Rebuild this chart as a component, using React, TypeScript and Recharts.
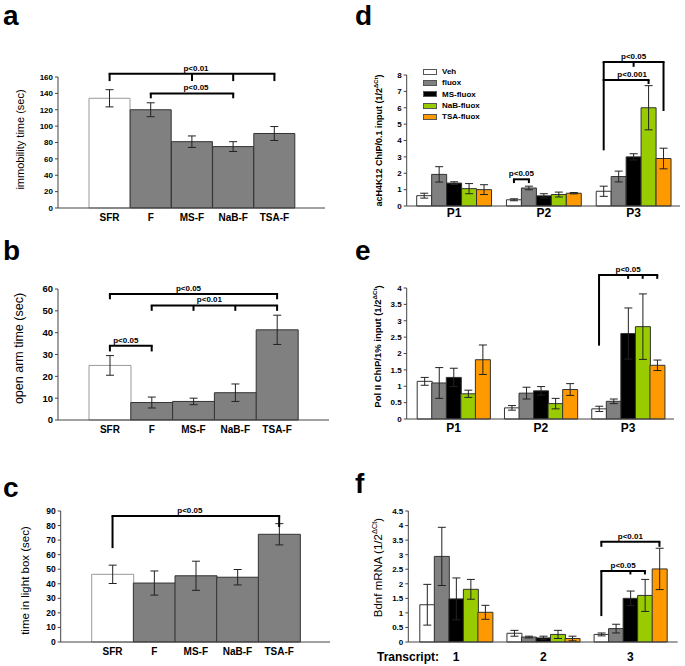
import React from 'react';
import { BarChart, Bar, XAxis, YAxis, ErrorBar, ReferenceLine, Cell } from 'recharts';

const FONT = '"Liberation Sans", Arial, Helvetica, sans-serif';

// behaviour tests (panels a-c)
const behaviourGroups = ['SFR', 'F', 'MS-F', 'NaB-F', 'TSA-F'];
const immobilityTime = [134, 120, 81, 75, 91];
const immobilityErr = [10.5, 8.5, 7, 6, 8.5];
const immobilityTicks = [0, 20, 40, 60, 80, 100, 120, 140, 160];
const openArmTime = [25, 8, 8.5, 12.5, 41.3];
const openArmErr = [4.5, 2.5, 1.5, 4, 6.7];
const openArmTicks = [0, 10, 20, 30, 40, 50, 60];
const lightBoxTime = [46.5, 40.5, 45.5, 44.5, 74];
const lightBoxErr = [6.3, 8.3, 10, 5.3, 7.3];
const lightBoxTicks = [0, 10, 20, 30, 40, 50, 60, 70, 80, 90];

// ChIP and mRNA (panels d-f), values per treatment inside each group
const treatments = ['Veh', 'fluox', 'MS-fluox', 'NaB-fluox', 'TSA-fluox'];
const treatmentColors = ['#ffffff', '#808080', '#000000', '#99cc00', '#ff9900'];
const promoters = ['P1', 'P2', 'P3'];
const transcripts = ['1', '2', '3'];

const acH4P1 = [0.63, 1.93, 1.4, 1.06, 1.0];
const acH4P2 = [0.38, 1.1, 0.62, 0.7, 0.78];
const acH4P3 = [0.9, 1.8, 3.0, 6.0, 2.9];
const acH4P1Err = [0.15, 0.47, 0.08, 0.31, 0.3];
const acH4P2Err = [0.06, 0.11, 0.13, 0.15, 0.04];
const acH4P3Err = [0.31, 0.33, 0.19, 1.35, 0.63];
const acH4Ticks = [0, 1, 2, 3, 4, 5, 6, 7, 8];

const polP1 = [1.15, 1.1, 1.27, 0.77, 1.81];
const polP2 = [0.34, 0.79, 0.86, 0.47, 0.9];
const polP3 = [0.31, 0.54, 2.61, 2.82, 1.64];
const polP1Err = [0.12, 0.47, 0.28, 0.11, 0.45];
const polP2Err = [0.07, 0.18, 0.13, 0.16, 0.18];
const polP3Err = [0.08, 0.07, 0.78, 1.0, 0.16];
const polTicks = [0, 0.5, 1, 1.5, 2, 2.5, 3, 3.5, 4];

const bdnf1 = [1.28, 2.94, 1.48, 1.81, 1.02];
const bdnf2 = [0.3, 0.17, 0.14, 0.26, 0.12];
const bdnf3 = [0.26, 0.46, 1.5, 1.6, 2.51];
const bdnf1Err = [0.7, 1.0, 0.72, 0.34, 0.24];
const bdnf2Err = [0.1, 0.03, 0.06, 0.14, 0.08];
const bdnf3Err = [0.05, 0.15, 0.25, 0.55, 0.71];
const bdnfTicks = [0, 0.5, 1, 1.5, 2, 2.5, 3, 3.5, 4, 4.5];

type Bracket = { label: string; y: number; from: string; to: string; legs: [string, number][]; dx?: number };

const at = (g: string, t: string) => `${g}|${treatments.indexOf(t)}`;

const immobilityBrackets: Bracket[] = [
  { label: 'p<0.01', y: 164, from: 'SFR', to: 'TSA-F', legs: [['SFR', 155], ['MS-F', 155], ['NaB-F', 155], ['TSA-F', 155]], dx: 4 },
  { label: 'p<0.05', y: 140, from: 'F', to: 'NaB-F', legs: [['F', 134], ['NaB-F', 134]], dx: 4 },
];
const openArmBrackets: Bracket[] = [
  { label: 'p<0.05', y: 57.7, from: 'SFR', to: 'TSA-F', legs: [['SFR', 55.3], ['TSA-F', 55.3]], dx: -5 },
  { label: 'p<0.01', y: 52.5, from: 'F', to: 'TSA-F', legs: [['F', 50], ['MS-F', 50], ['NaB-F', 50], ['TSA-F', 50]], dx: -5 },
  { label: 'p<0.05', y: 34, from: 'SFR', to: 'F', legs: [['SFR', 31.4], ['F', 31.4]], dx: -5 },
];
const lightBoxBrackets: Bracket[] = [
  { label: 'p<0.05', y: 86.6, from: 'SFR', to: 'TSA-F', legs: [['SFR', 64.5], ['TSA-F', 79]], dx: -6 },
];
const acH4Brackets: Bracket[] = [
  { label: 'p<0.05', y: 1.63, from: at('P2', 'Veh'), to: at('P2', 'fluox'), legs: [[at('P2', 'Veh'), 1.4], [at('P2', 'fluox'), 1.4]] },
  { label: 'p<0.05', y: 8.8, from: at('P3', 'Veh'), to: at('P3', 'TSA-fluox'), legs: [[at('P3', 'Veh'), 3.4], [at('P3', 'MS-fluox'), 8.5], [at('P3', 'TSA-fluox'), 5.8]] },
  { label: 'p<0.001', y: 7.7, from: at('P3', 'Veh'), to: at('P3', 'NaB-fluox'), legs: [[at('P3', 'NaB-fluox'), 7.45]], dx: 6 },
];
const polBrackets: Bracket[] = [
  { label: 'p<0.05', y: 4.4, from: at('P3', 'Veh'), to: at('P3', 'TSA-fluox'), legs: [[at('P3', 'Veh'), 2.24], [at('P3', 'MS-fluox'), 4.28], [at('P3', 'NaB-fluox'), 4.28], [at('P3', 'TSA-fluox'), 4.28]] },
];
const bdnfBrackets: Bracket[] = [
  { label: 'p<0.01', y: 3.44, from: at('3', 'Veh'), to: at('3', 'TSA-fluox'), legs: [[at('3', 'Veh'), 3.27], [at('3', 'TSA-fluox'), 3.27]] },
  { label: 'p<0.05', y: 2.44, from: at('3', 'Veh'), to: at('3', 'NaB-fluox'), legs: [[at('3', 'Veh'), 0.89], [at('3', 'MS-fluox'), 2.32], [at('3', 'NaB-fluox'), 2.32]] },
];

const TOP_PAD = 80;
const PLOT_H = 131;
const X_AXIS_H = 25;
const CHART_H = TOP_PAD + PLOT_H + X_AXIS_H;

function bracketLines(brackets: Bracket[], fontSize: number) {
  const out: React.ReactNode[] = [];
  brackets.forEach((b, i) => {
    out.push(
      <ReferenceLine
        key={`h${i}`}
        segment={[{ x: b.from, y: b.y }, { x: b.to, y: b.y }]}
        stroke="#000"
        strokeWidth={2}
        strokeLinecap="square"
        ifOverflow="visible"
        label={{ value: b.label, position: 'top', offset: 3, fontSize, fontWeight: 'bold', fill: '#000', fontFamily: FONT, dx: b.dx ?? 0 }}
      />
    );
    b.legs.forEach(([x, y2], j) =>
      out.push(
        <ReferenceLine key={`v${i}-${j}`} segment={[{ x, y: b.y }, { x, y: y2 }]} stroke="#000" strokeWidth={2} ifOverflow="visible" />
      )
    );
  });
  return out;
}

function AxisTitle({ x, shift, text, sup, size, weight }: { x: number; shift: number; text: string; sup?: string; size: number; weight: string }) {
  const cy = TOP_PAD + PLOT_H / 2 + shift;
  return (
    <svg width={70} height={CHART_H} style={{ position: 'absolute', left: 0, top: 0, pointerEvents: 'none', overflow: 'visible' }}>
      <text transform={`translate(${x},${cy}) rotate(-90)`} textAnchor="middle" dominantBaseline="central" fontSize={size} fontWeight={weight} fill="#000" fontFamily={FONT}>
        {text}
        {sup && <tspan dy={-size * 0.35} fontSize={size * 0.65}>{sup}</tspan>}
        {sup && <tspan dy={size * 0.35}>)</tspan>}
      </text>
    </svg>
  );
}

const axisTick = (size: number) => ({ fontSize: size, fontWeight: 'bold', fill: '#000', fontFamily: FONT });

function BehaviourPanel(props: {
  plotTop: number; plotLeft: number; plotRight: number;
  values: number[]; errors: number[]; ticks: number[]; padding: { left: number; right: number };
  title: string; titleX: number; titleShift: number; titleSize: number; tickFont: number; brackets: Bracket[];
}) {
  const rows = behaviourGroups.map((g, i) => ({ group: g, value: props.values[i], err: props.errors[i] }));
  const yMax = props.ticks[props.ticks.length - 1];
  return (
    <div style={{ position: 'absolute', left: 0, top: props.plotTop - TOP_PAD, width: 340, height: CHART_H }}>
      <BarChart
        width={340}
        height={CHART_H}
        data={rows}
        margin={{ top: TOP_PAD, right: 340 - props.plotRight, bottom: 0, left: 0 }}
        barCategoryGap={0}
        barGap={0}
        style={{ overflow: 'visible' }}
      >
        <XAxis dataKey="group" height={X_AXIS_H} padding={props.padding} tickLine={false} tickSize={0} tickMargin={6} interval={0} axisLine={{ stroke: '#444' }} tick={axisTick(10)} />
        <YAxis width={props.plotLeft} domain={[0, yMax]} ticks={props.ticks} interval={0} tickSize={3} tickMargin={2} axisLine={{ stroke: '#444' }} tickLine={{ stroke: '#444' }} tick={axisTick(props.tickFont)} />
        <Bar dataKey="value" isAnimationActive={false} strokeWidth={1}>
          {rows.map((r, i) => (
            <Cell key={r.group} fill={i === 0 ? '#ffffff' : '#808080'} stroke={i === 0 ? '#999999' : '#333333'} />
          ))}
          <ErrorBar dataKey="err" width={4} stroke="#222" strokeWidth={1} />
        </Bar>
        {bracketLines(props.brackets, 8)}
      </BarChart>
      <AxisTitle x={props.titleX} shift={props.titleShift} text={props.title} size={props.titleSize} weight="normal" />
    </div>
  );
}

function groupedRows(groups: string[], means: number[][], errs: number[][]) {
  const rows: { key: string; value: number | null; err: number | null; color: string }[] = [];
  groups.forEach((g, gi) => {
    if (gi > 0) rows.push({ key: `gap|${gi}`, value: null, err: null, color: '#ffffff' });
    treatments.forEach((_, ti) => rows.push({ key: `${g}|${ti}`, value: means[gi][ti], err: errs[gi][ti], color: treatmentColors[ti] }));
  });
  return rows;
}

function GroupPanel(props: {
  plotTop: number; plotLeft: number; plotRight: number;
  groups: string[]; means: number[][]; errs: number[][]; ticks: number[]; padding: { left: number; right: number };
  title: string; titleX: number; titleShift: number; titleSize: number; titleWeight: string;
  tickMargin: number; brackets: Bracket[];
}) {
  const rows = groupedRows(props.groups, props.means, props.errs);
  const yMax = props.ticks[props.ticks.length - 1];
  const left = 340;
  const width = 345;
  return (
    <div style={{ position: 'absolute', left, top: props.plotTop - TOP_PAD, width, height: CHART_H }}>
      <BarChart
        width={width}
        height={CHART_H}
        data={rows}
        margin={{ top: TOP_PAD, right: left + width - props.plotRight, bottom: 0, left: 0 }}
        barCategoryGap={0}
        barGap={0}
        style={{ overflow: 'visible' }}
      >
        <XAxis
          dataKey="key"
          height={X_AXIS_H}
          padding={props.padding}
          tickLine={false}
          tickSize={0}
          tickMargin={props.tickMargin}
          interval={0}
          axisLine={{ stroke: '#444' }}
          tick={axisTick(12)}
          tickFormatter={(v: string) => {
            const [g, ti] = v.split('|');
            return g !== 'gap' && ti === '2' ? g : '';
          }}
        />
        <YAxis width={props.plotLeft - left} domain={[0, yMax]} ticks={props.ticks} interval={0} tickSize={3} tickMargin={2} axisLine={{ stroke: '#444' }} tickLine={{ stroke: '#444' }} tick={axisTick(8)} />
        <Bar dataKey="value" isAnimationActive={false} strokeWidth={1}>
          {rows.map((r) => (
            <Cell key={r.key} fill={r.color} stroke="#333333" />
          ))}
          <ErrorBar dataKey="err" width={4} stroke="#222" strokeWidth={1} />
        </Bar>
        {bracketLines(props.brackets, 8)}
      </BarChart>
      <AxisTitle x={props.titleX} shift={props.titleShift} text={props.title} sup={'\u0394Ct'} size={props.titleSize} weight={props.titleWeight} />
    </div>
  );
}

function PanelLetter({ letter, x, baseline }: { letter: string; x: number; baseline: number }) {
  return (
    <svg width={40} height={40} style={{ position: 'absolute', left: x, top: baseline - 30 }}>
      <text x={0} y={30} fontSize={28} fontWeight="bold" fontFamily={FONT} fill="#000">
        {letter}
      </text>
    </svg>
  );
}

function TreatmentLegend() {
  return (
    <div style={{ position: 'absolute', left: 423, top: 66, fontFamily: FONT, fontSize: 8, fontWeight: 'bold' }}>
      {treatments.map((t, i) => (
        <div key={t} style={{ display: 'flex', alignItems: 'center', height: 11.3 }}>
          <span style={{ width: 12, height: 4, background: treatmentColors[i], border: '1px solid #555', marginRight: 5 }} />
          <span>{t}</span>
        </div>
      ))}
    </div>
  );
}

export default function App() {
  return (
    <div style={{ position: 'absolute', left: 0, top: 0, width: 685, height: 666, background: '#fff', fontFamily: FONT, overflow: 'hidden' }}>
      <BehaviourPanel plotTop={76.7} plotLeft={58} plotRight={325} values={immobilityTime} errors={immobilityErr} ticks={immobilityTicks}
        padding={{ left: 31, right: 30 }} title="immobility time (sec)" titleX={20} titleShift={-3} titleSize={11} tickFont={8} brackets={immobilityBrackets} />
      <BehaviourPanel plotTop={289} plotLeft={58} plotRight={329} values={openArmTime} errors={openArmErr} ticks={openArmTicks}
        padding={{ left: 31, right: 31 }} title="open arm time (sec)" titleX={19} titleShift={-6} titleSize={12.5} tickFont={9.5} brackets={openArmBrackets} />
      <BehaviourPanel plotTop={511} plotLeft={60.7} plotRight={330} values={lightBoxTime} errors={lightBoxErr} ticks={lightBoxTicks}
        padding={{ left: 31, right: 30 }} title="time in light box (sec)" titleX={25} titleShift={4} titleSize={11.5} tickFont={8.5} brackets={lightBoxBrackets} />

      <GroupPanel plotTop={75.3} plotLeft={406.7} plotRight={680} groups={promoters} means={[acH4P1, acH4P2, acH4P3]} errs={[acH4P1Err, acH4P2Err, acH4P3Err]}
        ticks={acH4Ticks} padding={{ left: 10, right: 9 }} title="acH4K12 ChIP/0.1 input (1/2" titleX={39} titleShift={0} titleSize={9} titleWeight="bold"
        tickMargin={2} brackets={acH4Brackets} />
      <GroupPanel plotTop={288.3} plotLeft={406.7} plotRight={674} groups={promoters} means={[polP1, polP2, polP3]} errs={[polP1Err, polP2Err, polP3Err]}
        ticks={polTicks} padding={{ left: 10.5, right: 9.5 }} title="Pol II ChIP/1% input (1/2" titleX={37.5} titleShift={-7} titleSize={9.5} titleWeight="bold"
        tickMargin={4} brackets={polBrackets} />
      <GroupPanel plotTop={511} plotLeft={408.3} plotRight={677.7} groups={transcripts} means={[bdnf1, bdnf2, bdnf3]} errs={[bdnf1Err, bdnf2Err, bdnf3Err]}
        ticks={bdnfTicks} padding={{ left: 11.5, right: 11 }} title="Bdnf mRNA (1/2" titleX={38} titleShift={-9} titleSize={11.5} titleWeight="normal"
        tickMargin={10} brackets={bdnfBrackets} />

      <TreatmentLegend />
      <div style={{ position: 'absolute', left: 377, top: 650, fontSize: 12, lineHeight: '14px', fontWeight: 'bold' }}>Transcript:</div>

      <PanelLetter letter="a" x={3} baseline={25} />
      <PanelLetter letter="b" x={3} baseline={260} />
      <PanelLetter letter="c" x={3} baseline={497} />
      <PanelLetter letter="d" x={355} baseline={25} />
      <PanelLetter letter="e" x={355} baseline={260} />
      <PanelLetter letter="f" x={355} baseline={493} />
    </div>
  );
}
